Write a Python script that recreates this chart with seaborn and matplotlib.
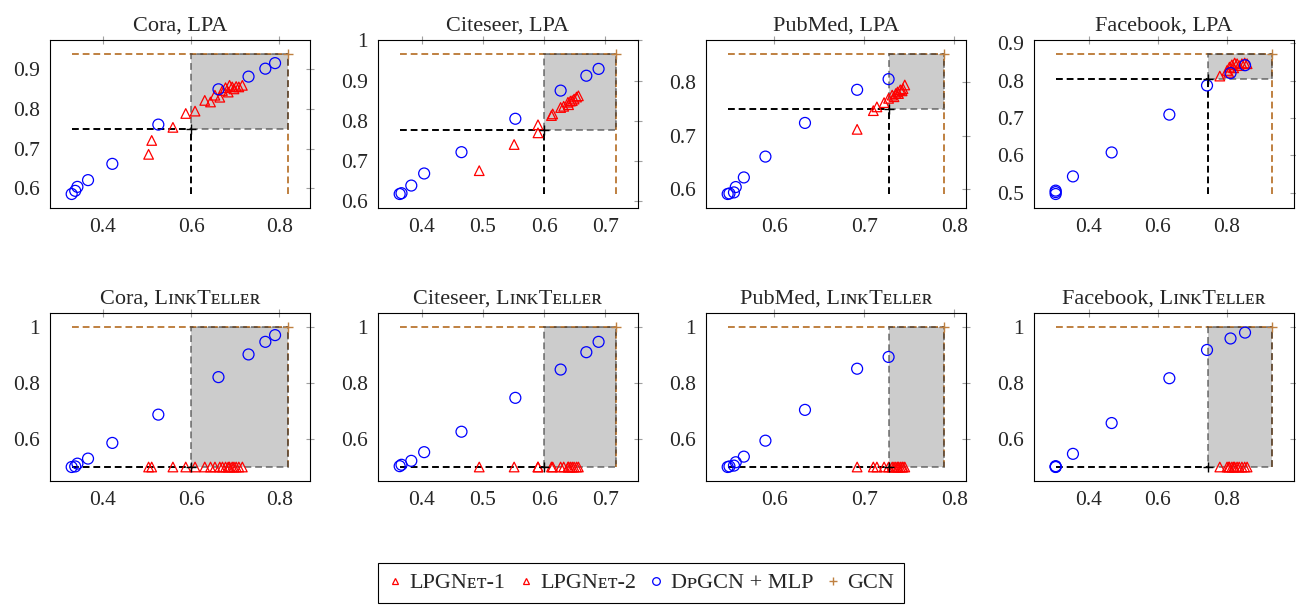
import numpy as np
import pandas as pd
import matplotlib
matplotlib.use("Agg")
import matplotlib.pyplot as plt
import seaborn as sns
from matplotlib.lines import Line2D
from matplotlib.patches import Rectangle
from matplotlib.ticker import MultipleLocator, FuncFormatter

# ---------------- data ----------------
datasets = ["Cora", "Citeseer", "PubMed", "Facebook"]
attack_names = ["LPA", "LɪɴᴋTᴇʟʟᴇʀ"]

# DpGCN + MLP (x shared by both attacks)
cora_dp_x = [0.330, 0.338, 0.343, 0.367, 0.422, 0.526, 0.662, 0.730, 0.768, 0.790]
cora_dp_lpa = [0.586, 0.594, 0.604, 0.621, 0.662, 0.761, 0.850, 0.882, 0.902, 0.916]
cora_dp_lt = [0.500, 0.502, 0.512, 0.530, 0.586, 0.687, 0.821, 0.902, 0.947, 0.971]

citeseer_dp_x = [0.364, 0.367, 0.383, 0.404, 0.465, 0.553, 0.627, 0.669, 0.689]
citeseer_dp_lpa = [0.618, 0.620, 0.639, 0.669, 0.722, 0.805, 0.875, 0.912, 0.929]
citeseer_dp_lt = [0.503, 0.508, 0.522, 0.553, 0.626, 0.747, 0.848, 0.910, 0.947]

pubmed_dp_x = [0.548, 0.550, 0.555, 0.557, 0.566, 0.590, 0.634, 0.692, 0.727]
pubmed_dp_lpa = [0.591, 0.592, 0.594, 0.604, 0.622, 0.661, 0.724, 0.786, 0.806]
pubmed_dp_lt = [0.500, 0.502, 0.505, 0.517, 0.537, 0.594, 0.704, 0.851, 0.893]

facebook_dp_x = [0.304, 0.304, 0.304, 0.354, 0.466, 0.633, 0.742, 0.810, 0.852]
facebook_dp_lpa = [0.497, 0.502, 0.506, 0.544, 0.608, 0.709, 0.787, 0.820, 0.841]
facebook_dp_lt = [0.500, 0.501, 0.503, 0.547, 0.657, 0.817, 0.918, 0.959, 0.980]

# LPGNet-1
cora_lp1_x = [0.504, 0.559, 0.609, 0.644, 0.665, 0.684, 0.697, 0.708]
cora_lp1_lpa = [0.686, 0.754, 0.795, 0.818, 0.830, 0.843, 0.851, 0.856]
cora_lp1_lt = [0.500, 0.500, 0.500, 0.500, 0.500, 0.500, 0.500, 0.500]
citeseer_lp1_x = [0.494, 0.590, 0.612, 0.627, 0.640, 0.646, 0.653]
citeseer_lp1_lpa = [0.676, 0.770, 0.813, 0.833, 0.840, 0.850, 0.859]
citeseer_lp1_lt = [0.500, 0.500, 0.500, 0.500, 0.500, 0.500, 0.500]
pubmed_lp1_x = [0.692, 0.714, 0.727, 0.733, 0.737, 0.742, 0.745]
pubmed_lp1_lpa = [0.712, 0.754, 0.770, 0.773, 0.782, 0.784, 0.795]
pubmed_lp1_lt = [0.500, 0.500, 0.500, 0.500, 0.500, 0.500, 0.500]
facebook_lp1_x = [0.779, 0.805, 0.814, 0.829, 0.843, 0.858]
facebook_lp1_lpa = [0.812, 0.822, 0.842, 0.845, 0.845, 0.845]
facebook_lp1_lt = [0.500, 0.500, 0.500, 0.500, 0.500, 0.500]

# LPGNet-2
cora_lp2_x = [0.511, 0.588, 0.631, 0.654, 0.671, 0.678, 0.687, 0.693, 0.702, 0.716]
cora_lp2_lpa = [0.721, 0.789, 0.822, 0.835, 0.847, 0.854, 0.860, 0.856, 0.857, 0.860]
cora_lp2_lt = [0.500, 0.500, 0.500, 0.500, 0.500, 0.500, 0.500, 0.500, 0.500, 0.500]
citeseer_lp2_x = [0.551, 0.590, 0.614, 0.632, 0.639, 0.643, 0.649, 0.656]
citeseer_lp2_lpa = [0.741, 0.790, 0.817, 0.836, 0.846, 0.849, 0.854, 0.862]
citeseer_lp2_lt = [0.500, 0.500, 0.500, 0.500, 0.500, 0.500, 0.500, 0.500]
pubmed_lp2_x = [0.710, 0.722, 0.731, 0.735, 0.738, 0.740, 0.743]
pubmed_lp2_lpa = [0.747, 0.762, 0.776, 0.779, 0.779, 0.786, 0.788]
pubmed_lp2_lt = [0.500, 0.500, 0.500, 0.500, 0.500, 0.500, 0.500]
facebook_lp2_x = [0.800, 0.807, 0.819, 0.822, 0.835, 0.851]
facebook_lp2_lpa = [0.827, 0.836, 0.834, 0.847, 0.840, 0.847]
facebook_lp2_lt = [0.500, 0.500, 0.500, 0.500, 0.500, 0.500]

# MLP reference point (black dashed) and GCN (orange), per dataset
mlp_x = [0.600, 0.600, 0.727, 0.744]
mlp_lpa = [0.750, 0.778, 0.750, 0.803]
mlp_lt = [0.500, 0.500, 0.500, 0.500]
gcn_x = [0.820, 0.718, 0.789, 0.931]
gcn_lpa = [0.939, 0.966, 0.853, 0.871]
gcn_lt = [1.000, 1.000, 1.000, 1.000]

x_steps = [0.2, 0.1, 0.1, 0.2]
y_steps = [0.1, 0.2]

dp_x = [cora_dp_x, citeseer_dp_x, pubmed_dp_x, facebook_dp_x]
dp_y = [[cora_dp_lpa, citeseer_dp_lpa, pubmed_dp_lpa, facebook_dp_lpa],
        [cora_dp_lt, citeseer_dp_lt, pubmed_dp_lt, facebook_dp_lt]]
lp1_x = [cora_lp1_x, citeseer_lp1_x, pubmed_lp1_x, facebook_lp1_x]
lp1_y = [[cora_lp1_lpa, citeseer_lp1_lpa, pubmed_lp1_lpa, facebook_lp1_lpa],
         [cora_lp1_lt, citeseer_lp1_lt, pubmed_lp1_lt, facebook_lp1_lt]]
lp2_x = [cora_lp2_x, citeseer_lp2_x, pubmed_lp2_x, facebook_lp2_x]
lp2_y = [[cora_lp2_lpa, citeseer_lp2_lpa, pubmed_lp2_lpa, facebook_lp2_lpa],
         [cora_lp2_lt, citeseer_lp2_lt, pubmed_lp2_lt, facebook_lp2_lt]]
mlp_y = [mlp_lpa, mlp_lt]
gcn_y = [gcn_lpa, gcn_lt]

# ---------------- style ----------------
sns.set_style("white")
plt.rcParams["font.family"] = ["Liberation Serif", "DejaVu Serif"]
plt.rcParams["axes.linewidth"] = 0.8

RED = "#ff0000"
BLUE = "#0000ff"
BROWN = "#bf8040"

W, H = 1296, 605
fig = plt.figure(figsize=(W / 100, H / 100), dpi=100)

col_left = [50, 378, 706, 1034]
row_top = [40, 313]
ax_w, ax_h = 260, 168

fmt = FuncFormatter(lambda v, p: f"{v:g}")

for r in range(2):
    for c in range(4):
        ax = fig.add_axes([col_left[c] / W, 1 - (row_top[r] + ax_h) / H, ax_w / W, ax_h / H])
        xs_all = dp_x[c] + lp1_x[c] + lp2_x[c]
        ys_all = dp_y[r][c] + lp1_y[r][c] + lp2_y[r][c]
        xmin, ymin = min(xs_all), min(ys_all)
        rx, ry = mlp_x[c], mlp_y[r][c]
        gx, gy = gcn_x[c], gcn_y[r][c]
        dash = dict(ls=(0, (3.5, 2.0)), lw=1.4, zorder=1)
        ax.plot([xmin, rx], [ry, ry], color="black", **dash)
        ax.plot([rx, rx], [ymin, ry], color="black", **dash)
        ax.plot([xmin, gx], [gy, gy], color=BROWN, **dash)
        ax.plot([gx, gx], [ymin, gy], color=BROWN, **dash)
        ax.add_patch(Rectangle((rx, ry), gx - rx, gy - ry, facecolor="black",
                               alpha=0.2, edgecolor="none", zorder=2))
        ax.add_patch(Rectangle((rx, ry), gx - rx, gy - ry, fill=False,
                               edgecolor=(0.25, 0.25, 0.25, 0.6), lw=1.4,
                               ls=(0, (3.5, 2.0)), zorder=2))
        sns.scatterplot(x=lp1_x[c], y=lp1_y[r][c], ax=ax, marker="^", s=48,
                        color=RED, facecolor="none", edgecolor=RED, linewidth=0.9,
                        legend=False, zorder=3)
        sns.scatterplot(x=lp2_x[c], y=lp2_y[r][c], ax=ax, marker="^", s=48,
                        color=RED, facecolor="none", edgecolor=RED, linewidth=0.9,
                        legend=False, zorder=3)
        sns.scatterplot(x=dp_x[c], y=dp_y[r][c], ax=ax, marker="o", s=62,
                        color=BLUE, facecolor="none", edgecolor=BLUE, linewidth=0.9,
                        legend=False, zorder=3)
        sns.scatterplot(x=[rx], y=[ry], ax=ax, marker="+", s=60, color="black",
                        linewidth=1.0, legend=False, zorder=3)
        sns.scatterplot(x=[gx], y=[gy], ax=ax, marker="+", s=60, color=BROWN,
                        linewidth=1.0, legend=False, zorder=3)
        ax.margins(0.1)
        ax.xaxis.set_major_locator(MultipleLocator(x_steps[c]))
        ax.yaxis.set_major_locator(MultipleLocator(y_steps[r]))
        ax.xaxis.set_major_formatter(fmt)
        ax.yaxis.set_major_formatter(fmt)
        ax.tick_params(direction="inout", length=6, width=0.8, color="#a0a0a0",
                       top=True, right=True, labelsize=15.5, pad=4)
        for sp in ax.spines.values():
            sp.set_color("black")
            sp.set_linewidth(0.8)
        ax.set_title(f"{datasets[c]}, {attack_names[r]}", fontsize=16, pad=7)

handles = [
    Line2D([], [], ls="none", marker="^", ms=5, mfc="none", mec=RED, mew=0.9),
    Line2D([], [], ls="none", marker="^", ms=5, mfc="none", mec=RED, mew=0.9),
    Line2D([], [], ls="none", marker="o", ms=5.5, mfc="none", mec=BLUE, mew=0.9),
    Line2D([], [], ls="none", marker="+", ms=6, color=BROWN, mew=1.0),
]
labels = ["LPGNᴇᴛ-1", "LPGNᴇᴛ-2", "DᴘGCN + MLP", "GCN"]
leg = fig.legend(handles, labels, loc="center", bbox_to_anchor=(641 / W, 1 - 583 / H),
                 ncol=4, frameon=True, fancybox=False, edgecolor="black", framealpha=1,
                 handlelength=0.7, handletextpad=0.3, columnspacing=0.55,
                 borderpad=0.45, fontsize=16)
leg.get_frame().set_linewidth(0.8)

fig.savefig("out.png", dpi=100)
